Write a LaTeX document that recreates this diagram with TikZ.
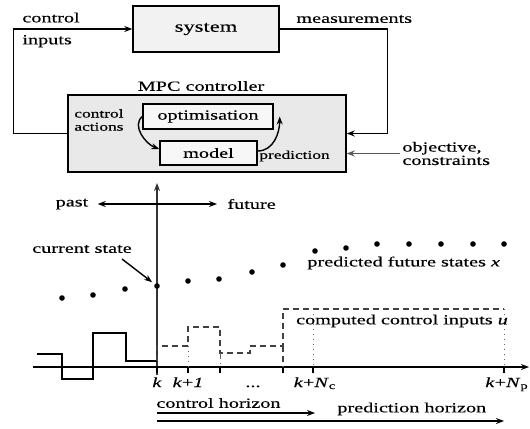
\documentclass[tikz,border=0pt]{standalone}
\usepackage{fontspec}
\setmainfont{Liberation Serif}[FakeStretch=1.45, FakeBold=0.3]
\usetikzlibrary{arrows.meta, positioning, calc}
\tikzset{
  blockbox/.style={rectangle, draw=black, line width=0.7bp, inner sep=0pt,
                   align=center, font=\fontsize{7}{8.4}\selectfont},
  lbl/.style={inner sep=1bp, font=\fontsize{7}{8.4}\selectfont},
  smalllbl/.style={inner sep=0.5bp, align=left, font=\fontsize{6}{6.6}\selectfont},
  conn/.style={-{Stealth[length=4bp,width=3bp]}, line width=0.7bp},
  statedot/.style={circle, fill=black, inner sep=0pt, minimum size=2.8bp},
  plan/.style={dash pattern=on 3bp off 2bp, line width=0.7bp, black!75},
  guide/.style={dotted, line width=0.5bp, black!60},
}

\begin{document}
\begin{tikzpicture}[x=0.5bp, y=-0.5bp]
  \useasboundingbox (0,0) rectangle (530,429);
  % feedback loop
  \node[blockbox, fill=gray!10, minimum width=73bp, minimum height=23bp,
        font=\fontsize{7.8}{9}\selectfont] (sys) at (206,29) {system};
  \node[blockbox, fill=gray!17, minimum width=139bp, minimum height=38.5bp] (ctrl) at (207,133.5) {};
  \node[blockbox, fill=gray!6, minimum width=65bp, minimum height=12.5bp] (opt) at (208,116.5) {optimisation};
  \node[blockbox, fill=gray!6, minimum width=48.5bp, minimum height=12bp] (model) at (208.5,153) {model};
  \node[lbl, above=0.5bp of ctrl, xshift=-3bp] (mpc) {MPC controller};
  \node[smalllbl, anchor=west] (acts) at (73,120) {control\\actions};
  \node[smalllbl, anchor=west] (pred) at (258,156) {prediction};
  \node[lbl, align=left, anchor=west, font=\fontsize{7}{11}\selectfont] (uin) at (20,30) {control\\inputs};
  \node[lbl, anchor=west] (meas) at (294,19) {measurements};
  \node[lbl, align=left, anchor=west, font=\fontsize{7}{6.7}\selectfont] (obj) at (400,153.5) {objective,\\constraints};
  \draw[conn] (ctrl.west) -- ++(-54,0) |- (sys.west);
  \draw[conn] (sys.east) -- ++(108,0) |- (ctrl.east);
  \draw[conn, draw=black!65] (obj.west) -- (obj.west -| ctrl.east);
  \draw[conn] (opt.west) to[out=220, in=160] ([yshift=2bp]model.west);
  \draw[conn] ([yshift=1bp]model.east) to[out=0, in=-90] ([xshift=3bp]opt.east);

  % time axes
  \coordinate (tbot) at (157,375);
  \coordinate (ttop) at (157,183);
  \coordinate (hleft) at (33,367);
  \coordinate (hright) at (529,367);
  \draw[conn, line width=0.9bp, black!80] (tbot) -- (ttop);
  \draw[conn] (hleft) -- (hright);
  \node[lbl, inner sep=2bp] (past) at (72,204) {past};
  \node[lbl, inner sep=2bp, anchor=west] (fut) at (223,204) {future};
  \draw[{Stealth[length=4bp,width=3bp]}-{Stealth[length=4bp,width=3bp]}, line width=0.7bp,
        shorten <=2.5bp, shorten >=3bp] (past) -- (fut);

  % states
  \foreach \x/\y [count=\i] in {62/298, 93/295, 125/289, 157/286, 188/281, 219/279, 252/272,
      283/265, 315/251, 346/248, 377/244, 409/244, 441/244, 473/244, 504/244}
    \node[statedot] (s\i) at (\x,\y) {};
  \node[lbl] (cur) at (82,249) {current state};
  \coordinate (curtail) at (122,259);
  \draw[conn, shorten >=1.5bp] (curtail) -- (s4);
  \node[lbl, anchor=west] (predx) at (305,263) {predicted future states \textit{x}};

  % inputs
  \draw[line width=0.7bp] (37,354) -- (62,354) -- (62,379) -- (93,379) -- (93,333)
    -- (126,333) -- (126,361) -- (157,361);
  \draw[plan] (157,361) -- (157,346) -- (188,346) -- (188,327) -- (220,327) -- (220,353)
    -- (250,353) -- (250,346) -- (283,346) -- (283,309) -- (504,309);
  \draw[guide] (188,346) -- (188,367);
  \draw[guide, dash dot] (220,353) -- (220,367);
  \draw[plan] (283,346) -- (283,367);
  \draw[guide] (313,309) -- (313,367);
  \draw[guide] (504,309) -- (504,367);
  \foreach \x in {157,188,220,283,313,504}
    \draw[line width=0.7bp] (\x,367) -- (\x,373);
  \node[lbl] (uout) at (402,321) {computed control inputs \textit{u}};

  % time labels
  \node[lbl, anchor=base] (tk) at (157,387) {\textit{k}};
  \node[lbl, anchor=base] (tk1) at (188,387) {\textit{k}+\textit{1}};
  \node[lbl, anchor=base] (tdots) at (253,387) {...};
  \node[lbl, anchor=base] (tnc) at (315,387) {\textit{k}+\textit{N}\textsubscript{c}};
  \node[lbl, anchor=base] (tnp) at (507,387) {\textit{k}+\textit{N}\textsubscript{p}};

  % horizons
  \node[lbl, anchor=west] (chor) at (154,403) {control horizon};
  \node[lbl, anchor=west] (phor) at (335,409) {prediction horizon};
  \coordinate (ch0) at (157,413);
  \coordinate (ch1) at (315,413);
  \coordinate (ph0) at (157,421);
  \coordinate (ph1) at (504,421);
  \draw[conn] (ch0) -- (ch1);
  \draw[conn] (ph0) -- (ph1);
\end{tikzpicture}
\end{document}
